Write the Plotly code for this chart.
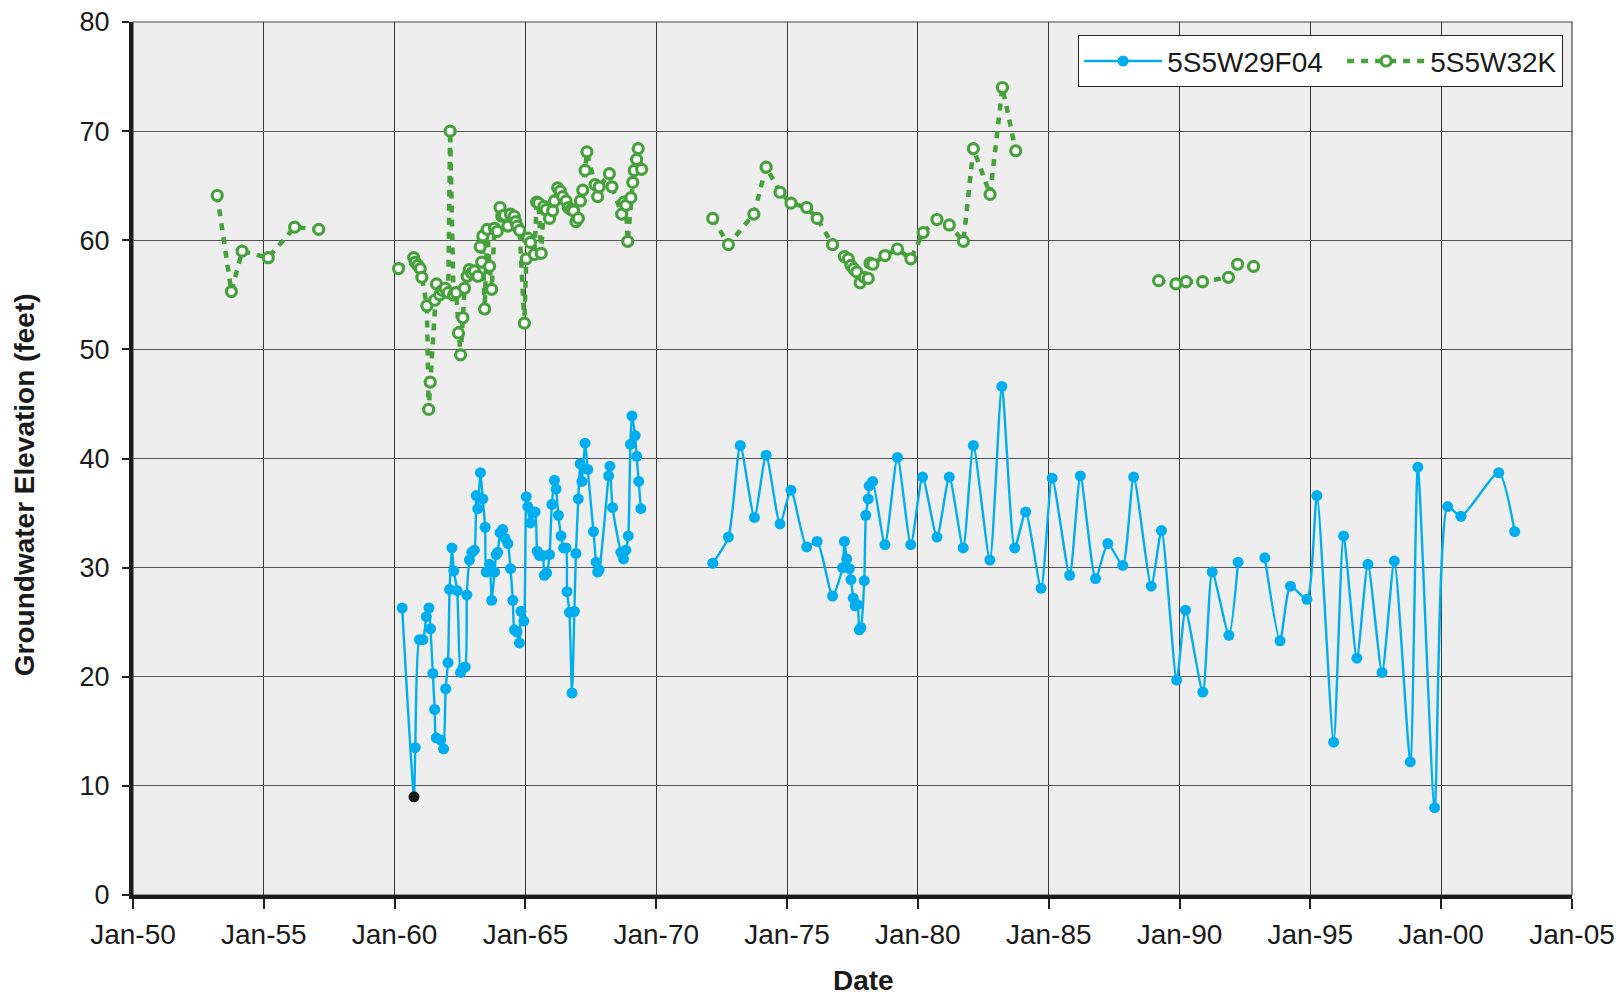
import datetime as dt
import plotly.graph_objects as go

# ---------------- data (decimal years; None = gap in record) ----------------
f04_years = [
    1960.29, 1960.74, 1960.79, 1960.95, 1961.08, 1961.21, 1961.31, 1961.37, 1961.46, 1961.53,
    1961.59, 1961.76, 1961.87, 1961.95, 1962.04, 1962.10, 1962.19, 1962.26, 1962.39, 1962.52,
    1962.61, 1962.70, 1962.76, 1962.86, 1962.95, 1963.05, 1963.12, 1963.18, 1963.28, 1963.37,
    1963.46, 1963.50, 1963.63, 1963.71, 1963.82, 1963.88, 1963.94, 1964.03, 1964.13, 1964.22,
    1964.33, 1964.43, 1964.52, 1964.58, 1964.68, 1964.77, 1964.83, 1964.94, 1965.03, 1965.09,
    1965.19, 1965.28, 1965.37, 1965.45, 1965.54, 1965.66, 1965.72, 1965.81, 1965.92, 1966.01,
    1966.11, 1966.17, 1966.26, 1966.36, 1966.46, 1966.55, 1966.59, 1966.68, 1966.78, 1966.87,
    1966.93, 1967.02, 1967.09, 1967.16, 1967.28, 1967.38, 1967.60, 1967.70, 1967.76, 1967.82,
    1968.18, 1968.23, 1968.33, 1968.65, 1968.75, 1968.84, 1968.93, 1969.01, 1969.07, 1969.19,
    1969.25, 1969.33, 1969.41, None,
    1972.16, 1972.76, 1973.21, 1973.75, 1974.20, 1974.73, 1975.15, 1975.75, 1976.15, 1976.74,
    1977.12, 1977.19, 1977.28, 1977.38, 1977.44, 1977.53, 1977.60, 1977.69, 1977.76, 1977.82,
    1977.95, 1978.01, 1978.10, 1978.14, 1978.27, 1978.74, 1979.22, 1979.73, 1980.18, 1980.73,
    1981.20, 1981.73, 1982.12, 1982.75, 1983.21, 1983.70, 1984.12, 1984.71, 1985.13, 1985.80,
    1986.21, 1986.79, 1987.26, 1987.83, 1988.25, 1988.92, 1989.31, 1989.89, 1990.23, 1990.89,
    1991.25, 1991.89, 1992.24, None,
    1993.26, 1993.84, 1994.24, 1994.87, 1995.25, 1995.89, 1996.27, 1996.78, 1997.20, 1997.74,
    1998.21, 1998.82, 1999.11, 1999.75, 2000.25, 2000.76, 2002.20, 2002.81,
]
f04_elev = [
    26.3, 9.0, 13.5, 23.4, 23.4, 25.5, 26.3, 24.4, 20.3, 17.0,
    14.4, 14.2, 13.4, 18.9, 21.3, 28.0, 31.8, 29.7, 27.9, 20.4,
    20.8, 20.9, 27.5, 30.7, 31.4, 31.6, 36.6, 35.4, 38.7, 36.3,
    33.7, 29.6, 30.3, 27.0, 29.6, 31.2, 31.4, 33.2, 33.5, 32.7,
    32.2, 29.9, 27.0, 24.3, 24.1, 23.1, 26.0, 25.1, 36.5, 35.6,
    34.1, 35.0, 35.1, 31.5, 31.1, 31.1, 29.3, 29.5, 31.2, 35.8,
    38.0, 37.2, 34.8, 32.9, 31.8, 31.8, 27.8, 25.9, 18.5, 26.0,
    31.3, 36.3, 39.5, 37.9, 41.4, 39.0, 33.3, 30.5, 29.6, 29.8,
    38.4, 39.3, 35.5, 31.4, 30.8, 31.6, 32.9, 41.3, 43.9, 42.1,
    40.2, 37.9, 35.4, None,
    30.4, 32.8, 41.2, 34.6, 40.3, 34.0, 37.1, 31.9, 32.4, 27.4,
    30.0, 32.4, 30.8, 29.9, 28.9, 27.2, 26.5, 26.6, 24.3, 24.5,
    28.8, 34.8, 36.3, 37.5, 37.9, 32.1, 40.1, 32.1, 38.3, 32.8,
    38.3, 31.8, 41.2, 30.7, 46.6, 31.8, 35.1, 28.1, 38.2, 29.3,
    38.4, 29.0, 32.2, 30.2, 38.3, 28.3, 33.4, 19.7, 26.1, 18.6,
    29.6, 23.8, 30.5, None,
    30.9, 23.3, 28.3, 27.1, 36.6, 14.0, 32.9, 21.7, 30.3, 20.4,
    30.6, 12.2, 39.2, 8.0, 35.6, 34.7, 38.7, 33.3,
]
f04_dark_points = [1960.74]   # reading shown with a dark marker

k32_years = [
    1953.22, 1953.76, 1954.17, 1955.17, 1956.18, 1957.10, None,
    1960.15, 1960.73, 1960.79, 1960.89, 1960.98, 1961.04, 1961.23, 1961.30, 1961.36, 1961.53,
    1961.60, 1961.72, 1961.82, 1961.93, 1962.05, 1962.12, 1962.25, 1962.35, 1962.44, 1962.52,
    1962.61, 1962.67, 1962.77, 1962.85, 1962.95, 1963.05, 1963.18, 1963.27, 1963.33, 1963.37,
    1963.44, 1963.54, 1963.63, 1963.71, 1963.82, 1963.92, 1964.03, 1964.10, 1964.20, 1964.33,
    1964.43, 1964.57, 1964.63, 1964.68, 1964.78, 1964.96, 1965.03, 1965.09, 1965.19, 1965.34,
    1965.43, 1965.50, 1965.60, 1965.70, 1965.79, 1965.92, 1966.04, 1966.11, 1966.23, 1966.33,
    1966.42, 1966.55, 1966.64, 1966.74, 1966.84, 1966.93, 1967.02, 1967.10, 1967.19, 1967.28,
    1967.35, 1967.66, 1967.76, 1967.82, 1968.21, 1968.31, 1968.68, 1968.76, 1968.84, 1968.91,
    1969.03, 1969.10, 1969.16, 1969.25, 1969.31, 1969.44, None,
    1972.16, 1972.76, 1973.73, 1974.20, 1974.73, 1975.15, 1975.75, 1976.15, 1976.74, 1977.19,
    1977.34, 1977.44, 1977.54, 1977.66, 1977.79, 1977.95, 1978.10, 1978.17, 1978.28, 1978.74,
    1979.22, 1979.73, 1980.20, 1980.73, 1981.20, 1981.74, 1982.12, 1982.76, 1983.23, 1983.74, None,
    1989.20, 1989.86, 1990.25, 1990.88, 1991.87, 1992.22, 1992.83,
]
k32_elev = [
    64.1, 55.3, 59.0, 58.4, 61.2, 61.0, None,
    57.4, 58.4, 58.0, 57.7, 57.4, 56.6, 54.0, 44.5, 47.0, 54.5,
    56.0, 55.0, 55.4, 55.6, 55.2, 70.0, 55.0, 55.2, 51.5, 49.5,
    52.9, 55.6, 56.7, 57.3, 57.0, 57.2, 56.7, 59.4, 58.0, 60.4,
    53.7, 61.0, 57.6, 55.5, 61.1, 60.8, 63.0, 62.2, 62.3, 61.3,
    62.4, 62.2, 61.7, 61.3, 60.9, 52.4, 58.3, 60.2, 59.8, 58.7,
    63.5, 63.4, 58.8, 63.1, 62.8, 62.0, 62.7, 63.6, 64.8, 64.5,
    64.0, 63.6, 63.0, 62.8, 62.7, 61.7, 62.0, 63.6, 64.6, 66.4,
    68.1, 65.1, 64.0, 64.9, 66.1, 64.9, 62.4, 63.5, 63.2, 59.9,
    63.9, 65.3, 66.4, 67.4, 68.4, 66.5, None,
    62.0, 59.6, 62.4, 66.7, 64.4, 63.4, 63.0, 62.0, 59.6, 58.5,
    58.3, 57.7, 57.4, 57.1, 56.1, 56.6, 56.5, 57.9, 57.8, 58.6,
    59.2, 58.3, 60.7, 61.9, 61.4, 59.9, 68.4, 64.2, 74.0, 68.2, None,
    56.3, 56.0, 56.2, 56.2, 56.6, 57.8, 57.6,
]

x_range = ["1950-01-01", "2005-01-01"]
y_range = [0, 80]
series_names = ["5S5W29F04", "5S5W32K"]
x_title = "Date"
y_title = "Groundwater Elevation (feet)"


def to_date(y):
    if y is None:
        return None
    yr = int(y)
    return dt.datetime(yr, 1, 1) + dt.timedelta(days=(y - yr) * 365.25)


BLUE = "#00AEEF"
GREEN = "#46A03C"
FONT = "Liberation Sans, Arial, sans-serif"

f04_colors = ["#1a1a1a" if y in f04_dark_points else BLUE for y in f04_years]

fig = go.Figure()
fig.add_trace(go.Scatter(
    x=[to_date(y) for y in f04_years], y=f04_elev, name=series_names[0],
    mode="lines+markers", connectgaps=False, legendwidth=170,
    line=dict(color=BLUE, width=2.4, shape="spline", smoothing=0.6),
    marker=dict(color=f04_colors, size=11, line=dict(width=0)),
))
fig.add_trace(go.Scatter(
    x=[to_date(y) for y in k32_years], y=k32_elev, name=series_names[1],
    mode="lines+markers", connectgaps=False,
    line=dict(color=GREEN, width=4.5, dash="7px,7px"),
    marker=dict(color="white", size=10, symbol="circle", line=dict(color=GREEN, width=3.2)),
))

# page body adds an 8px offset, so the figure is 8px smaller on each side
fig.update_layout(
    width=1615, height=992,
    margin=dict(l=124.5, r=51, t=13.7, b=104.7),
    paper_bgcolor="white", plot_bgcolor="#EEEEEE",
    font=dict(family=FONT, size=27, color="#1a1a1a"),
    showlegend=True,
    legend=dict(
        orientation="h", x=0.9937, xanchor="right", y=0.985, yanchor="top",
        bgcolor="white", bordercolor="#222222", borderwidth=1.2,
        font=dict(size=28, color="#1a1a1a"), itemwidth=78,
        tracegroupgap=0,
    ),
    xaxis=dict(
        type="date", range=x_range, dtick="M60", tick0="1950-01-01",
        tickformat="%b-%y", showgrid=True, gridcolor="#3a3a3a", gridwidth=1,
        ticks="outside", ticklen=10, tickwidth=1.5, tickcolor="#222222",
        showline=True, linecolor="#1a1a1a", linewidth=4,
        zeroline=False, ticklabelstandoff=1, automargin=False,
        ticklabeloverflow="allow", tickfont=dict(size=28),
    ),
    yaxis=dict(
        range=y_range, dtick=10, showgrid=True, gridcolor="#555555", gridwidth=1,
        ticks="outside", ticklen=7, tickwidth=1.5, tickcolor="#222222",
        showline=True, linecolor="#1a1a1a", linewidth=4,
        zeroline=False, ticklabelstandoff=7, automargin=False,
        ticklabeloverflow="allow", tickfont=dict(size=27),
    ),
    shapes=[dict(type="rect", xref="paper", yref="paper", x0=0, x1=1, y0=0, y1=1,
                 line=dict(color="#444444", width=1.2), fillcolor="rgba(0,0,0,0)", layer="below")],
    annotations=[
        dict(text=f"<b>{y_title}</b>", xref="paper", yref="paper", x=-0.0754, y=0.47,
             xanchor="center", yanchor="middle", textangle=-90, showarrow=False,
             font=dict(size=28, family=FONT, color="#1a1a1a")),
        dict(text=f"<b>{x_title}</b>", xref="paper", yref="paper", x=0.5075, y=-0.098,
             xanchor="center", yanchor="middle", showarrow=False,
             font=dict(size=28, family=FONT, color="#1a1a1a")),
    ],
)

fig.write_html("out.html")
